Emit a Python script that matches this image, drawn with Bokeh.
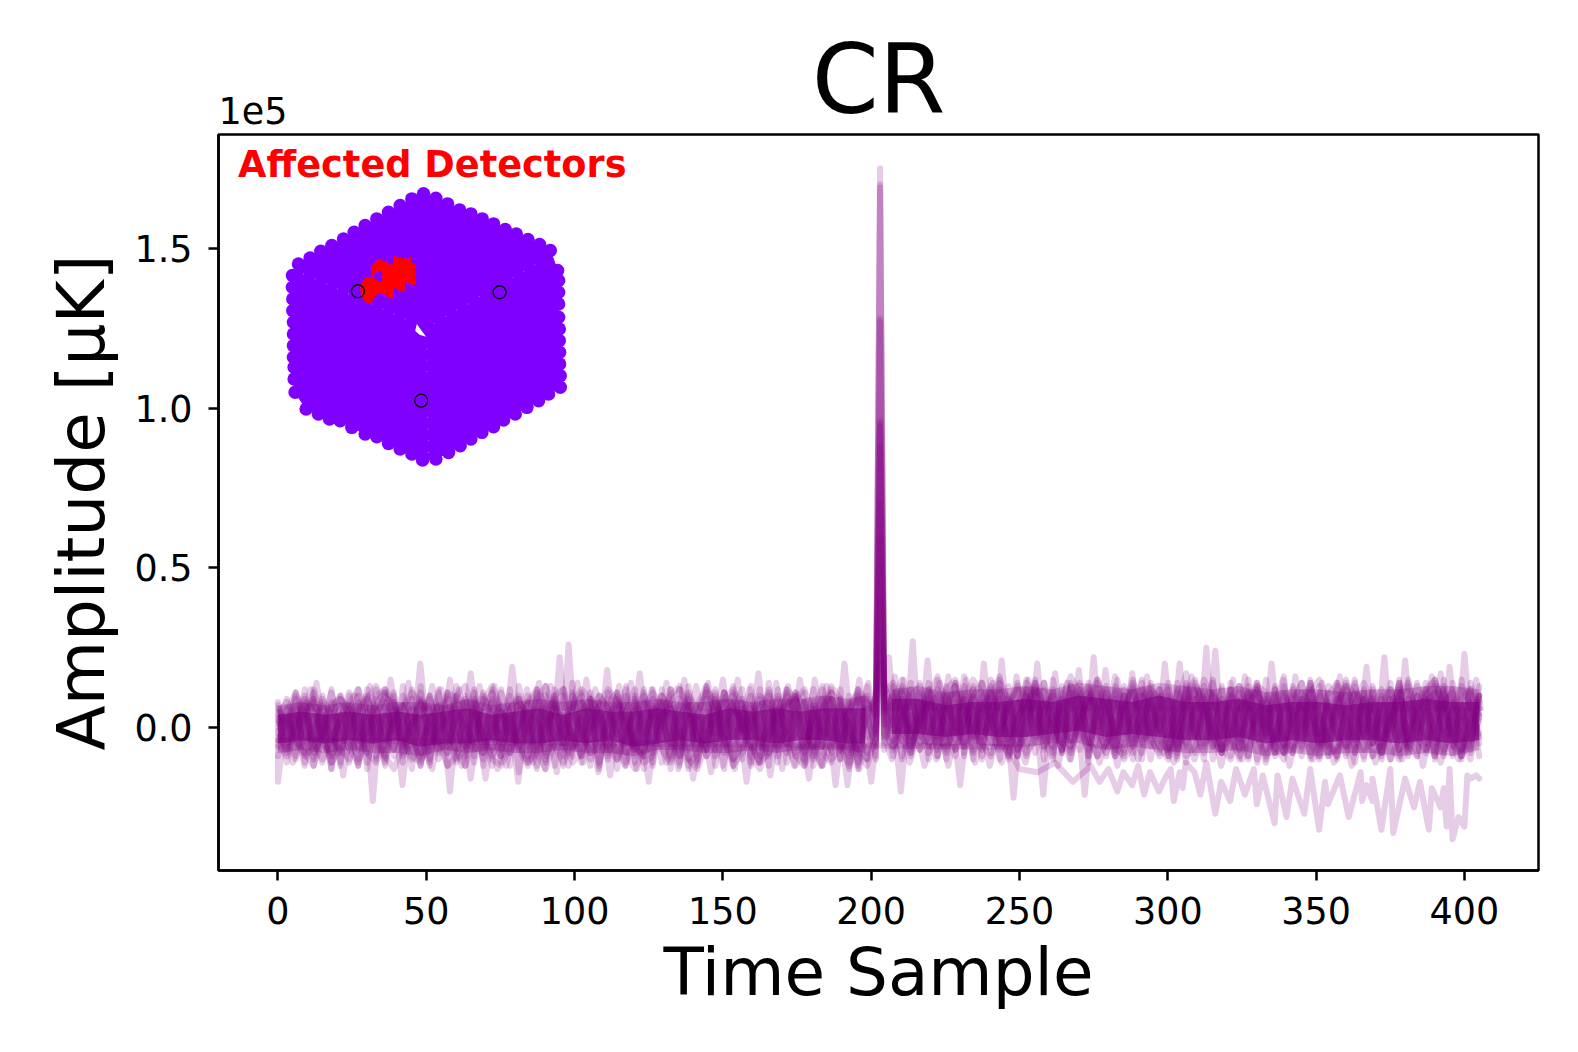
import numpy as np
from bokeh.plotting import figure
from bokeh.models import Range1d, FixedTicker, Label
from bokeh.embed import file_html
from bokeh.resources import INLINE

# amplitudes below are in units of 1000 uK
title = "CR"
x_label = "Time Sample"
y_label = "Amplitude [μK]"
inset_label = "Affected Detectors"
offset_text = "1e5"
x_ticks = [0, 50, 100, 150, 200, 250, 300, 350, 400]
y_ticks = [0, 50, 100, 150]
y_tick_labels = ["0.0", "0.5", "1.0", "1.5"]

spike_sample = 203
spike_peaks = [175, 170, 169, 128, 127, 96, 95, 94, 60, 88, 70, 50, 40, 30, 25, 20]

left_series = [
[3,-7,9,-11,5,-3,12,-8,2,10,-13,6,-4,11,-9,1,8,-12,7,-2,13,-6,4,-10,9,-1,12,-14,5,3,-8,10,-5,14,-11,2,7,-9,11,-3,6,-13,9,0,12,-7,4,-10,13,-5,8,-12,3,10,-6,14,-9,1,11,-12,6,-4,12,-10,8,-7,13,-2],
[-6,4,-2,8,-10,7,-5,3,11,-7,0,9,-12,5,7,-4,-9,10,-1,6,-11,8,2,-6,12,-9,3,-3,10,-12,6,8,-7,1,11,-10,-2,9,-13,5,12,-4,-8,10,3,-11,7,1,-9,11,-2,6,-10,13,-5,-3,9,-11,4,8,-6,12,-8,-1,10,-12,5,9],
[8,-3,-10,5,9,-6,2,-11,7,4,-8,12,-2,-7,10,3,-12,6,-5,11,1,-9,8,-3,-12,11,5,-7,-1,9,-10,4,12,-6,-3,8,-11,2,10,-8,-1,12,-5,7,-10,3,9,-12,5,-2,11,-7,8,-4,-11,6,2,10,-9,-2,12,-6,3,-10,7,11,-8,1],
[-2,6,-9,2,11,-5,-8,7,-1,-10,9,3,-6,8,-11,12,-3,1,-8,10,-7,4,11,-12,2,7,-5,9,-9,-2,13,-6,-4,10,2,-12,8,-6,4,12,-9,1,6,-11,-4,9,-13,7,-1,10,-8,4,12,-3,7,-12,10,-5,-2,8,-9,6,11,-7,2,-11,9,-4],
[5,-11,2,7,-4,10,-9,-1,6,-3,12,-10,8,-1,4,-13,9,5,-10,3,8,-4,-7,11,-2,-9,6,10,-6,2,-11,12,1,-8,5,9,-4,-10,8,1,-7,11,-12,4,6,-9,13,-3,-7,9,2,-10,6,-1,12,-8,-4,11,3,-10,7,-6,9,1,-13,5,-3,10],
[-9,1,6,-5,-1,9,4,-12,10,-6,3,-9,11,-7,2,6,-3,-11,12,-8,5,0,-5,9,7,-11,-2,8,4,-13,1,7,-9,11,-3,6,-12,5,-1,10,-11,8,3,-6,12,-2,-7,4,11,-9,-5,13,-1,6,-8,3,-11,7,10,-4,1,-12,9,5,-7,12,-1,-9],
[1,9,-5,12,-8,-2,6,10,-5,8,-11,1,4,-9,13,-7,3,10,-4,-8,6,-12,9,2,-7,5,-12,13,-1,6,-9,-3,10,-7,8,4,-13,11,-2,-5,9,-8,12,-1,-9,7,5,-11,2,12,-6,-2,9,-11,3,10,-3,-8,6,11,-12,1,8,-5,-9,10,3,-6],
[-4,2,7,-8,12,2,-11,4,-7,6,10,-5,-9,3,7,-2,11,-6,-1,-12,10,7,-9,5,-4,12,-8,1,8,-6,10,-12,4,-2,-9,11,3,-7,6,-11,10,-2,5,8,-13,2,11,-6,9,-12,4,8,-2,5,-9,12,-6,-1,10,-8,4,13,-5,7,-11,1,6,-10],
[7,-5,11,-1,-6,8,-13,10,3,-12,5,-4,2,10,-8,-5,13,-10,4,9,-3,-6,12,-8,1,-4,10,-5,-11,8,3,-2,-12,6,10,-1,5,-8,-4,13,-6,-9,7,1,-5,12,-10,3,-6,8,-13,11,-1,7,-3,-9,12,-5,9,1,-10,3,-7,12,-4,-13,8,4],
[-1,-8,4,10,-12,1,8,-3,-11,12,-2,7,-10,6,-5,9,-8,2,11,-6,-2,10,-11,-1,8,-7,3,6,-10,12,-4,9,-1,-6,3,-8,10,6,-10,-4,8,2,-11,12,-3,-12,10,6,-4,-7,11,-3,1,-12,9,5,-7,12,-2,-11,8,-1,-3,9,-8,4,-10,11],
[2,3,-4,-9,-6,1,7,9,4,-3,-8,-11,-5,2,6,11,8,-1,-7,-4,3,9,5,-2,-10,-12,-6,0,8,12,7,1,-5,-9,-3,4,10,6,-2,-8,-13,-7,2,5,10,13,6,-3,-9,-5,1,7,3,-6,-11,-8,0,6,9,12,4,-4,-10,-7,2,8,10,3],
[-5,-9,-2,4,8,3,-3,-7,-10,-1,5,10,12,3,-4,-10,-6,2,7,1,-8,-12,-3,6,11,4,-2,-6,1,9,13,5,-4,-11,-8,-1,3,8,11,2,-6,-9,-4,3,7,-1,-10,-13,-5,4,9,12,7,-2,-6,1,6,2,-9,-12,-4,5,11,8,-1,-7,-10,-3],
[6,1,-3,-8,-12,-4,3,9,6,0,-5,4,10,7,-2,-9,-11,-3,4,11,9,2,-6,-8,-1,5,2,-7,-12,-5,3,10,12,4,-1,-8,-6,2,9,3,-4,-11,-9,1,8,12,5,-3,-7,0,6,10,1,-9,-13,-4,4,7,11,6,-2,-8,-11,-2,5,12,8,-1],
[0,5,11,4,-5,-10,-3,2,8,12,5,-2,-9,-13,-6,1,4,9,2,-4,-10,-7,1,8,13,6,-1,-5,-11,-8,0,6,3,-3,-9,1,7,12,8,-1,-7,-4,4,10,6,-5,-12,-8,-2,3,11,6,1,-6,-10,-2,5,12,9,0,-7,-12,-5,3,6,9,1,-5],
[-3,-6,1,9,5,-2,-11,-7,0,5,9,13,6,-1,-6,2,8,3,-5,-12,-9,-1,6,10,3,-4,-8,-2,7,11,2,-6,-11,-4,3,9,5,-3,-7,-12,-2,6,11,7,-2,-9,-1,5,12,8,-4,-10,-6,2,10,7,-1,-5,-12,-7,1,6,13,9,0,-8,-12,-4],
[4,8,2,-6,-9,-2,5,1,-7,-11,-3,7,12,8,2,-4,-10,-7,-1,3,10,13,4,-3,-9,-4,6,9,0,-8,-13,-5,2,7,12,9,-1,-6,-10,-1,5,10,4,-7,-11,-3,2,7,13,3,-4,-12,-8,1,6,11,3,-2,-8,-5,4,9,2,-6,-12,-5,3,10],
]

right_series = [
[12,-4,9,-7,14,1,-6,11,-2,16,-8,5,13,-5,10,-9,15,3,-3,12,-7,8,-4,14,0,11,-8,6,15,-5,2,12,-9,7,17,-3,10,-6,13,-9,4,15,-4,9,-8,11,3,-6,14,-2,8,-10,13,5,-7,12,-3,9,-9,15,2,-5,11,-8,14,1,-6,10],
[-3,8,15,-6,2,11,-9,7,13,-2,6,-10,9,16,-4,1,12,-8,5,10,-5,14,3,-9,7,13,-6,10,-1,-8,14,5,-4,11,-6,8,13,-10,2,12,-7,6,-2,15,-9,4,10,-7,12,1,-8,6,15,-4,-1,11,-9,7,13,-6,3,9,-10,12,-3,7,-8,13],
[6,-7,2,12,-3,9,5,-8,14,-6,10,2,-5,12,-9,8,3,15,-6,1,9,-10,7,12,-2,-6,9,3,13,-10,7,-1,14,-8,4,-2,11,6,-8,14,1,-9,12,-3,7,16,-6,2,-9,10,5,-3,12,-8,9,-5,3,14,-7,5,-9,12,7,-2,-8,15,-4,2],
[10,2,-9,6,11,-5,-2,13,-7,3,9,-9,15,-1,5,-7,11,-3,14,-8,4,11,-1,-7,15,3,-9,12,-4,6,-6,10,2,-10,12,-3,5,15,-7,0,11,-9,5,-1,13,-6,8,14,-3,-9,11,4,-6,8,-10,13,2,-4,11,-9,6,14,-2,-9,8,3,12,-5],
[-7,13,4,-3,8,-10,12,3,-4,9,-7,14,4,-10,7,12,-6,1,8,-9,13,-2,6,-11,10,5,1,-8,11,4,-10,6,9,-7,14,-1,-8,11,3,-6,13,5,-10,8,2,-8,13,-4,6,11,-5,-9,7,14,-3,2,-8,12,4,-3,10,-7,1,13,-9,6,-1,10],
[3,-9,11,-1,5,-6,15,-3,8,-9,13,-3,1,9,-6,14,-2,8,-10,6,-8,13,9,-4,-9,7,11,-2,6,14,-4,-8,10,2,-11,9,-5,3,12,-2,-10,7,13,-7,-3,10,1,-9,8,-7,13,10,-2,-11,6,9,-8,2,14,-7,-1,11,-5,6,12,-9,5,-3],
[15,-1,7,-8,3,14,-7,10,1,-5,12,-7,6,11,-10,3,10,-5,12,2,-7,7,14,-5,3,-9,13,8,-6,1,11,-7,-2,14,-5,6,9,-4,-8,10,8,-3,7,-10,12,4,-8,11,7,-5,1,13,-8,-1,12,-5,10,-10,5,9,-3,-7,13,-1,6,-10,11,3],
[-5,5,12,-9,10,-2,4,-10,11,6,-3,10,-8,14,0,-9,6,13,-3,-10,11,-6,2,10,-6,12,-3,4,-10,9,13,-1,6,-9,8,12,-6,-1,9,5,-5,13,-11,3,10,-3,-7,6,-2,13,-9,9,3,-6,11,-9,7,-2,12,-5,10,3,-8,15,-6,2,8,-9],
[9,-6,-2,14,-5,7,10,-6,-1,13,-10,8,2,-4,13,-7,-2,11,-7,15,1,-4,12,-9,6,1,16,-7,3,-3,12,9,-7,-3,13,1,-10,14,-5,6,-7,11,3,-2,12,-8,6,1,14,-9,7,-2,-9,13,4,-5,9,-1,14,-6,-9,8,11,-4,2,-7,14,6],
[1,11,-10,4,-7,12,-9,6,14,-8,4,-1,12,-6,9,2,-9,14,-1,4,-8,13,-7,7,11,-5,-1,10,-8,15,-2,3,-9,12,5,-8,7,2,-7,12,-3,-10,11,6,-7,13,-1,9,-10,4,-6,14,1,-8,10,3,-10,7,-3,13,-1,5,-9,8,11,-4,-7,9],
[11,14,6,-2,-7,-3,5,12,15,8,1,-5,-9,-1,7,13,10,2,-6,-2,9,16,11,3,-4,-8,0,7,12,5,-3,-9,-6,4,10,14,6,-1,-7,-3,5,11,8,-2,-8,-5,3,9,13,4,-4,-9,-1,8,14,7,1,-6,-10,-2,6,12,15,5,-3,-7,2,10],
[-2,-6,3,10,13,4,-3,-7,1,9,15,11,2,-5,-8,3,8,14,6,-2,-7,0,10,13,5,-4,-9,-3,6,12,8,-1,-8,-5,4,13,9,1,-6,-10,-1,8,12,3,-5,1,7,14,6,-3,-9,-6,5,11,8,-2,-8,3,10,14,4,-4,-9,-1,6,13,7,-2],
[5,10,-1,-5,2,9,16,7,0,-6,-2,6,11,4,-4,-9,2,10,14,6,-1,-6,3,9,15,8,-3,-10,-5,1,9,12,3,-6,-2,7,15,9,1,-4,-9,-3,4,10,6,-5,-8,1,11,15,7,-2,-6,2,9,4,-4,-10,-3,5,13,8,-1,-7,0,9,12,4],
[8,1,-4,-8,4,12,7,-1,-7,3,10,14,5,-3,-9,-4,6,12,9,1,-5,-8,2,11,6,-2,-7,4,14,10,0,-6,-10,-1,7,11,3,-6,2,9,13,6,-3,-9,-2,6,12,5,-5,-10,-1,8,13,4,-2,6,12,3,-7,-4,5,10,15,6,-5,-9,1,8],
[-4,3,13,9,-1,-8,-3,5,13,6,-2,-5,4,15,8,-1,-8,-4,6,11,2,-7,1,8,14,4,-6,-9,0,10,6,-4,-7,3,11,15,4,-3,-8,-2,6,9,14,2,-6,-10,3,8,1,-5,10,14,6,-3,-9,-2,7,12,2,-8,-3,4,14,8,-2,-9,-4,6],
[13,6,-2,-6,1,8,5,-4,-9,2,12,7,-1,-7,-3,6,14,10,-1,-6,5,12,8,-3,-9,-5,4,13,7,-4,-2,9,12,1,-9,-6,3,10,7,-1,-4,4,13,11,-3,-8,-1,9,4,-6,-3,5,14,10,-2,-9,-5,3,9,6,-3,-8,2,11,6,-4,-10,4],
]

# core of the band: knots
band_left_x = [0,8,16,24,32,40,48,56,64,72,80,88,96,104,112,120,128,136,144,152,160,168,176,184,192,198]
band_left_hi = [7,8,7,8,7,8,8,7,9,7,8,9,8,9,8,8,9,8,8,9,8,9,9,10,9,10]
band_left_lo = [-8,-7,-8,-7,-8,-8,-9,-7,-8,-7,-8,-8,-7,-8,-8,-9,-7,-7,-8,-8,-7,-8,-7,-7,-7,-8]
band_mid_left_hi = [4,5,4,5,4,5,4,5,6,4,5,6,4,6,5,5,6,5,4,6,5,6,5,6,6,6]
band_mid_left_lo = [-5,-4,-5,-4,-5,-4,-6,-5,-5,-4,-5,-5,-4,-5,-4,-6,-5,-4,-5,-4,-4,-5,-4,-4,-5,-5]
band_right_x = [207,216,225,234,243,252,261,270,279,288,297,306,315,324,333,342,351,360,369,378,387,396,405]
band_right_hi = [12,13,11,12,12,13,12,14,13,12,14,13,12,13,11,12,12,11,12,12,13,13,12]
band_right_lo = [-5,-5,-6,-5,-6,-6,-5,-5,-7,-6,-7,-8,-8,-7,-9,-8,-9,-8,-8,-9,-8,-9,-7]
band_mid_right_hi = [9,9,7,8,8,9,8,10,9,8,10,8,8,9,7,8,8,7,8,8,9,8,8]
band_mid_right_lo = [-2,-2,-3,-2,-3,-3,-2,-1,-3,-2,-3,-4,-4,-3,-5,-4,-5,-4,-4,-5,-4,-5,-4]

# isolated excursions above and below the band
up_x = [13,38,44,48,58,65,79,95,98,104,111,122,137,150,162,176,191,206,214,219,238,244,256,275,299,304,313,316,335,367,373,380,395,400]
up_v = [14,15,14,20,15,17,19,22,26,15,18,17,15,15,17,15,20,22,27,21,20,21,20,22,20,20,25,24,20,19,22,21,19,23]
down_x = [0,22,32,42,58,65,70,81,94,112,125,140,158,166,179,188,192,200,210,230,248,258,272]
down_v = [-17,-15,-23,-18,-20,-16,-16,-17,-14,-15,-17,-16,-17,-15,-16,-18,-18,-17,-20,-18,-22,-21,-21]

# smaller shoulders along both edges of the band
shoulder_up_x = [6,11,18,26,31,36,52,55,61,68,73,84,88,92,101,107,115,119,126,131,141,145,155,159,168,172,181,185,196,199,208,211,223,226,232,241,249,253,262,266,270,279,283,288,293,308,322,326,330,339,343,348,352,358,363,378,384,389,392,404]
shoulder_up_v = [10,12,11,10,13,11,13,12,12,13,13,12,14,13,14,12,13,14,12,14,13,14,15,12,14,13,15,13,15,14,16,15,14,16,15,14,16,15,17,14,18,18,15,17,16,16,15,16,14,15,16,15,14,16,15,15,14,16,17,15]
shoulder_down_x = [5,9,15,18,27,36,48,52,62,74,77,86,90,98,103,108,117,121,131,135,146,150,154,162,170,174,183,196,207,213,218,222,226,235,240,244,252,263,267,277,283,290,302,309,318,325,333,341,349,356,362,370,379,386,392,398]
shoulder_down_v = [-11,-12,-11,-13,-12,-11,-12,-13,-12,-13,-12,-11,-13,-12,-11,-14,-12,-13,-11,-13,-14,-12,-13,-11,-13,-12,-12,-13,-10,-11,-12,-10,-12,-11,-12,-11,-11,-12,-10,-11,-12,-10,-11,-10,-12,-10,-11,-12,-10,-11,-12,-11,-10,-12,-11,-10]

# the one detector that drifts downward at the end
drift_x = [0,246,250,256,262,268,274,277,280,283,285,288,290,292,294,297,299,301,302,304,305,306,309,311,313,316,318,321,323,326,329,330,332,336,337,340,342,346,348,351,353,354,358,361,365,365.5,367,369,369,372,375,376,380,383,385,388,389,392,393,394,395,396,398,400,401,402,404,405]
drift_v = [-4,-6,-13,-14,-11,-17,-12,-17,-13,-20,-14,-18,-12,-21,-14,-20,-16,-13,-23,-14,-19,-11,-14,-21,-11,-27,-17,-23,-13,-21,-13,-24,-15,-30,-15,-28,-16,-27,-13,-32,-17,-24,-15,-28,-14,-23,-18,-23,-16,-32,-13,-33,-16,-25,-17,-32,-19,-25,-19,-31,-13,-35,-28,-31,-15,-16,-15,-16]

# inset: focal-plane outline in inset units
hex_x = [580,617,652,688,722,756,790,825,858,893,928,960,982,985,985,985,985,987,987,988,988,990,990,955,925,890,855,820,790,755,722,690,655,617,577,545,510,475,440,405,365,330,298,265,228,195,192,192,190,190,190,190,188,188,187,187,205,240,272,305,340,372,405,440,475,510,545]
hex_y = [190,203,220,238,250,265,280,297,310,327,342,360,420,450,485,520,560,595,630,665,700,735,770,790,810,830,850,868,888,905,925,945,965,985,988,970,955,938,918,910,890,870,865,850,835,785,745,710,680,645,610,575,540,505,470,435,400,382,362,345,325,305,285,265,245,225,205]
hole_x = [560,572,588,568,555]
hole_y = [580,597,618,612,600]
seam_x = [220,255,290,322,355,425,458,492,525,612,647,680,714,747,848,880,914,590,590,590,592,593,595,595]
seam_y = [430,445,460,475,490,520,535,550,565,578,557,538,520,498,440,422,403,655,688,722,860,895,930,965]
hit_x = [422,425,445,470,475,488,490,500,535,543,545,556,556,540,525,523,505,492,490,475,465,445,428,425,405,392,390,405]
hit_y = [440,405,385,395,402,400,372,380,385,375,397,397,465,460,452,485,480,470,503,503,492,488,505,520,515,495,465,440]
hit_gap_x = [425,440,456,456,445]
hit_gap_y = [438,424,420,455,452]
ring_x = [383,808,573]
ring_y = [482,485,810]

PURPLE = "#800080"
INSET_BLUE = "#8000ff"

p = figure(width=1570, height=1044, output_backend="svg", toolbar_location=None,
           x_range=Range1d(-20.03, 424.97), y_range=Range1d(-44.75, 185.6),
           min_border_left=218, min_border_right=32, min_border_top=134, min_border_bottom=174,
           background_fill_color="white", border_fill_color="white")
p.grid.visible = False
p.outline_line_color = "black"
p.outline_line_width = 2.5

p.title.text = title
p.title.text_font = "DejaVu Sans"
p.title.text_font_size = "96px"
p.title.text_font_style = "normal"
p.title.align = "center"
p.title.vertical_align = "top"
p.title.text_color = "black"
p.title.standoff = -60

for ax, label in ((p.xaxis[0], x_label), (p.yaxis[0], y_label)):
    ax.axis_label = label
    ax.axis_label_text_font = "DejaVu Sans"
    ax.axis_label_text_font_size = "66px"
    ax.axis_label_text_font_style = "normal"
    ax.axis_label_text_color = "black"
    ax.major_label_text_font = "DejaVu Sans"
    ax.major_label_text_font_size = "36.5px"
    ax.major_label_text_color = "black"
    ax.major_tick_out = 10
    ax.major_tick_in = 0
    ax.minor_tick_out = 0
    ax.minor_tick_in = 0
    ax.major_tick_line_width = 2.5
    ax.axis_line_width = 2.5
    ax.major_label_standoff = 16
p.xaxis[0].ticker = FixedTicker(ticks=x_ticks)
p.yaxis[0].ticker = FixedTicker(ticks=y_ticks)
p.yaxis[0].major_label_overrides = dict(zip(y_ticks, y_tick_labels))
p.xaxis[0].axis_label_standoff = 7
p.yaxis[0].axis_label_standoff = 11

p.varea(band_left_x, band_left_lo, band_left_hi, fill_color=PURPLE, fill_alpha=0.25)
p.varea(band_right_x, band_right_lo, band_right_hi, fill_color=PURPLE, fill_alpha=0.25)
p.varea(band_left_x, band_mid_left_lo, band_mid_left_hi, fill_color=PURPLE, fill_alpha=0.6)
p.varea(band_right_x, band_mid_right_lo, band_mid_right_hi, fill_color=PURPLE, fill_alpha=0.6)

line_kw = dict(line_color=PURPLE, line_alpha=0.2, line_width=6, line_join="round", line_cap="round")
for i, (l, r) in enumerate(zip(left_series, right_series)):
    xs = list(np.linspace(0, 201.6, len(l))) + [spike_sample] + list(np.linspace(204.4, 405, len(r)))
    ys = l + [spike_peaks[i]] + r
    p.line(xs, ys, **line_kw)

p.multi_line([[max(x - 1.5, 0), x, x + 1.5] for x in up_x + shoulder_up_x],
             [[6, v, 6] for v in up_v + shoulder_up_v], **line_kw)
p.multi_line([[max(x - 1.5, 0), x, x + 1.5] for x in down_x + shoulder_down_x],
             [[-6, v, -6] for v in down_v + shoulder_down_v], **line_kw)
p.line(drift_x, drift_v, **line_kw)

# inset drawn on its own scale
p.extra_x_ranges["inset"] = Range1d(-34.8, 3923.4)
p.extra_y_ranges["inset"] = Range1d(2218.5, 12)
inset = dict(x_range_name="inset", y_range_name="inset")
p.patch(hex_x, hex_y, fill_color=INSET_BLUE, line_color=INSET_BLUE, **inset)
p.scatter(hex_x, hex_y, size=13.5, marker="circle", fill_color=INSET_BLUE, line_color=None, **inset)
p.patch(hole_x, hole_y, fill_color="white", line_color=None, **inset)
p.scatter(seam_x, seam_y, size=1.2, marker="circle", fill_color="white", fill_alpha=0.35, line_color=None, **inset)
p.patch(hit_x, hit_y, fill_color="red", line_color=None, **inset)
p.patch(hit_gap_x, hit_gap_y, fill_color=INSET_BLUE, line_color=None, **inset)
p.scatter(ring_x, ring_y, size=13, marker="circle", fill_color=None, line_color="black", line_width=1.3, **inset)

p.add_layout(Label(x=24, y=102, text=inset_label, text_color="red", text_font="DejaVu Sans",
                   text_font_size="36.7px", text_font_style="bold", text_baseline="alphabetic",
                   x_range_name="inset", y_range_name="inset"))
p.add_layout(Label(x=0, y=24, x_units="screen", y_units="screen", text=offset_text, text_color="black",
                   text_font="DejaVu Sans", text_font_size="36.5px", text_baseline="alphabetic"), "above")

open("out.html", "w").write(file_html(p, INLINE))
